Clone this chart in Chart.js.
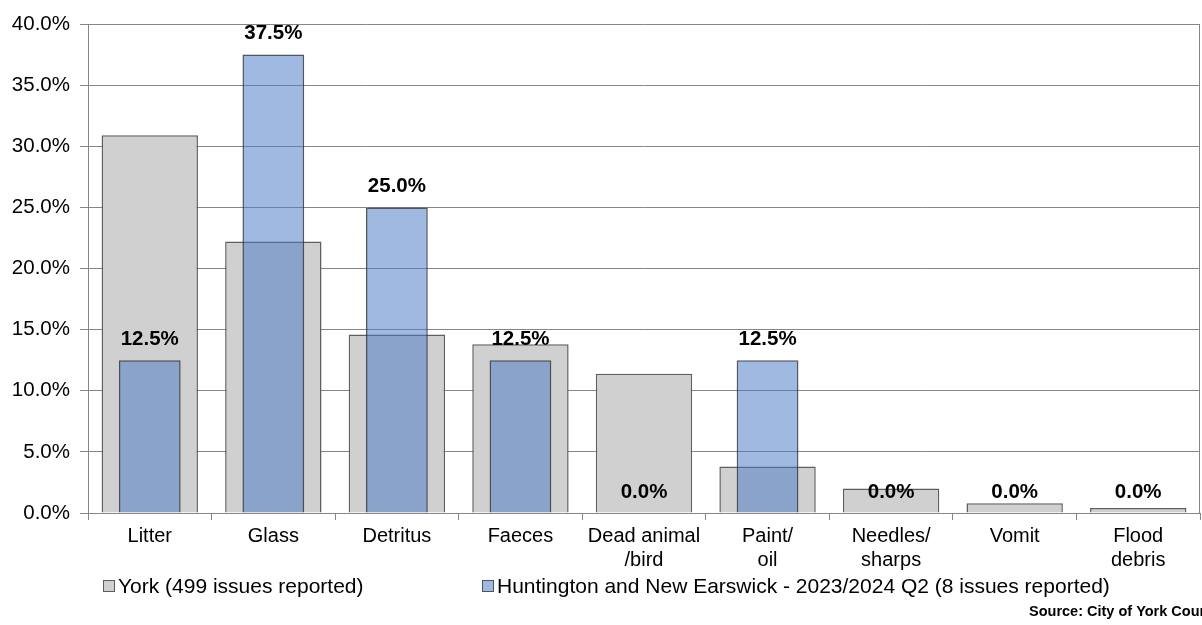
<!DOCTYPE html>
<html>
<head>
<meta charset="utf-8">
<script src="https://cdn.jsdelivr.net/npm/chart.js@4.4.1/dist/chart.umd.min.js"></script>
<style>
  html, body { margin: 0; padding: 0; background: #fff; }
  #wrap { width: 1202px; height: 625px; position: relative; }
</style>
</head>
<body>
<div id="wrap"><canvas id="c" width="1202" height="625"></canvas></div>
<script>
// Street cleansing issue types, share of reports (%)
const categories = [
  'Litter', 'Glass', 'Detritus', 'Faeces', ['Dead animal', '/bird'],
  ['Paint/', 'oil'], ['Needles/', 'sharps'], 'Vomit', ['Flood', 'debris']
];
const yorkValues = [30.9, 22.2, 14.6, 13.8, 11.4, 3.8, 2.0, 0.8, 0.4];
const wardValues = [12.5, 37.5, 25.0, 12.5, 0.0, 12.5, 0.0, 0.0, 0.0];
const yorkLabel = 'York (499 issues reported)';
const wardLabel = 'Huntington and New Earswick - 2023/2024 Q2 (8 issues reported)';
const yTicks = [0, 5, 10, 15, 20, 25, 30, 35, 40];
const sourceText = 'Source: City of York Council';

const FONT = "'Liberation Sans', Arial, sans-serif";

// Value labels above the ward bars
const valueLabels = {
  id: 'valueLabels',
  afterDatasetsDraw(chart) {
    const ctx = chart.ctx;
    const meta = chart.getDatasetMeta(1);
    ctx.save();
    ctx.font = 'bold 20.5px ' + FONT;
    ctx.fillStyle = '#000';
    ctx.textAlign = 'center';
    ctx.textBaseline = 'middle';
    meta.data.forEach((bar, i) => {
      ctx.fillText(wardValues[i].toFixed(1) + '%', bar.x, bar.y - 21);
    });
    ctx.restore();
  }
};

// Legend row, right-hand frame line and source note
const legendAndSource = {
  id: 'legendAndSource',
  afterDraw(chart) {
    const { ctx, chartArea } = chart;
    ctx.save();
    ctx.strokeStyle = '#868686';
    ctx.lineWidth = 1;
    ctx.beginPath();
    ctx.moveTo(chartArea.right - 0.5, chartArea.top);
    ctx.lineTo(chartArea.right - 0.5, chartArea.bottom);
    ctx.stroke();

    const items = [
      { ds: chart.data.datasets[0], x: 103 },
      { ds: chart.data.datasets[1], x: 482 }
    ];
    const y = 586;
    ctx.font = '21px ' + FONT;
    ctx.textBaseline = 'middle';
    ctx.textAlign = 'left';
    items.forEach(it => {
      ctx.fillStyle = '#fff';
      ctx.fillRect(it.x + 0.5, y - 5.5, 11, 11);
      ctx.fillStyle = it.ds.backgroundColor;
      ctx.fillRect(it.x + 0.5, y - 5.5, 11, 11);
      ctx.strokeStyle = it.ds.borderColor;
      ctx.lineWidth = 1;
      ctx.strokeRect(it.x + 0.5, y - 5.5, 11, 11);
      ctx.fillStyle = '#000';
      ctx.fillText(it.ds.label, it.x + 15, y + 1);
    });

    ctx.font = 'bold 14.5px ' + FONT;
    ctx.fillStyle = '#000';
    ctx.fillText(sourceText, 1029, 612);
    ctx.restore();
  }
};

new Chart(document.getElementById('c'), {
  type: 'bar',
  data: {
    labels: categories,
    datasets: [
      {
        label: yorkLabel,
        data: yorkValues,
        backgroundColor: '#d0d0d0',
        borderColor: '#5e5e5e',
        borderWidth: 1.5,
        barPercentage: 0.78,
        categoryPercentage: 1,
        grouped: false,
        order: 1
      },
      {
        label: wardLabel,
        data: wardValues,
        backgroundColor: 'rgba(76,122,197,0.53)',
        borderColor: 'rgba(50,56,72,0.85)',
        borderWidth: 1.5,
        barPercentage: 0.5,
        categoryPercentage: 1,
        grouped: false,
        order: 0
      }
    ]
  },
  options: {
    responsive: false,
    animation: false,
    events: [],
    layout: { padding: { top: 24, right: 2, bottom: 49, left: 0 } },
    plugins: {
      tooltip: { enabled: false },
      legend: { display: false }
    },
    scales: {
      x: {
        z: 1,
        offset: true,
        grid: {
          offset: true,
          drawOnChartArea: false,
          drawTicks: true,
          tickLength: 7,
          color: '#868686'
        },
        border: { color: '#868686' },
        ticks: {
          font: { family: FONT, size: 20, lineHeight: 1.2 },
          color: '#000',
          padding: 4,
          maxRotation: 0,
          autoSkip: false
        }
      },
      y: {
        z: 1,
        min: 0,
        max: 40,
        afterFit(scale) { scale.width = 88; },
        afterBuildTicks(scale) { scale.ticks = yTicks.map(v => ({ value: v })); },
        grid: { color: '#868686', tickLength: 8 },
        border: { color: '#868686' },
        ticks: {
          font: { family: FONT, size: 20.5 },
          color: '#000',
          padding: 10,
          callback: v => v.toFixed(1) + '%'
        }
      }
    }
  },
  plugins: [valueLabels, legendAndSource]
});
</script>
</body>
</html>
